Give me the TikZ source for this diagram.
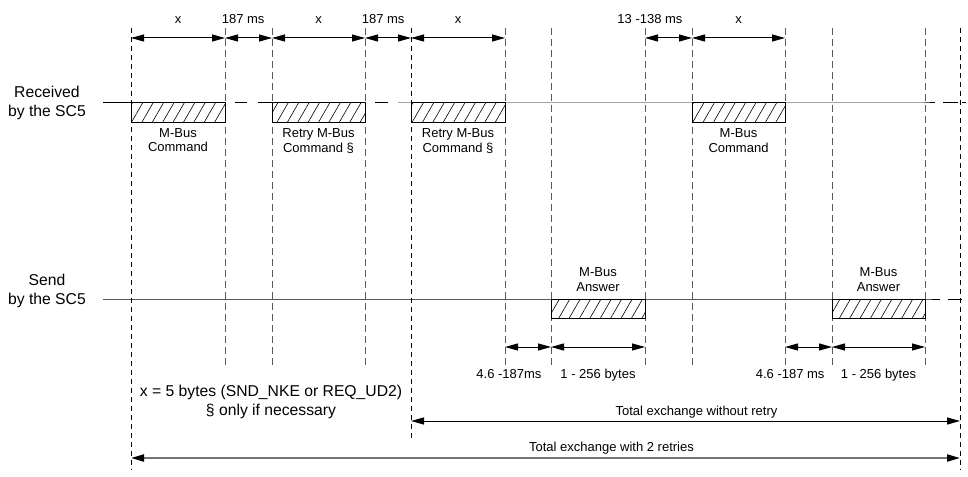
\documentclass[tikz,border=0pt]{standalone}
\usepackage{fontspec}
\setmainfont{Liberation Sans}
\usetikzlibrary{positioning,arrows.meta,patterns.meta,fit}

\begin{document}
\begin{tikzpicture}
	[
	  x=1pt, y=-1pt,
	  tick/.style={draw=black!65, dash pattern=on 7pt off 4pt, line width=1pt},
	  bound/.style={draw=black, dash pattern=on 5pt off 4pt, line width=0.9pt},
	  signal/.style={line width=1pt},
	  frame/.style={draw, line width=1pt, inner sep=0pt,
	    pattern={Lines[angle=60,distance=9pt,line width=0.6pt]}},
	  dim/.style={{Triangle[length=13pt,width=7pt,black]}-{Triangle[length=13pt,width=7pt,black]}, line width=1pt},
	  small/.style={font=\fontsize{13}{14.5}\selectfont, align=center, inner sep=0pt},
	  big/.style={font=\fontsize{15.7}{19.5}\selectfont, align=center, inner sep=0pt},
	]
	\useasboundingbox (0,0) rectangle (968,476);
	% time marks
	\foreach \n/\x in {0/131,1/225,2/272,3/365,4/411,5/505,6/551,7/645,8/692,9/785,10/832,11/925,12/960}
	  \coordinate (top\n) at (\x,28);
	\coordinate (rx) at (103,103);
	\coordinate (rb) at (103,122);
	\coordinate (sx) at (103,299);
	\coordinate (sb) at (103,318);
	\coordinate (dimtop) at (0,38);
	\coordinate (dimbot) at (0,347);
	\coordinate (tickend) at (0,365);
	% dashed time marks
	\foreach \n in {1,2,3,5,6,7,8,9,10,11}
	  \draw [tick] (top\n) -- (top\n |- tickend);
	\draw [bound] (top0) -- (top0 |- 0,470);
	\draw [bound] (top4) -- (top4 |- 0,440);
	\draw [bound] (top12) -- (top12 |- 0,470);
	% signal lines
	\draw [signal] (rx) -- (top1 |- rx)
	  ++(10,0) -- ++(12,0)
	  ++(11,0) -- (top3 |- rx)
	  ++(10,0) -- ++(13,0)
	  ++(10,0) -- (top11 |- rx) -- ++(10,0)
	  ++(8,0) -- ++(15,0)
	  ++(4,0) -- ++(4,0);
	\draw [signal] (sx) -- (top11 |- sx) -- ++(15,0)
	  ++(8,0) -- ++(14,0);
	\node (rcv) [big, left=17pt of rx] {Received\\by the SC5};
	\node (snd) [big, left=17pt of sx, yshift=8pt] {Send\\by the SC5};
	% frames
	\node (cmd1) [frame, fit={(top0 |- rx) (top1 |- rb)}] {};
	\node (cmd2) [frame, fit={(top2 |- rx) (top3 |- rb)}] {};
	\node (cmd3) [frame, fit={(top4 |- rx) (top5 |- rb)}] {};
	\node (cmd4) [frame, fit={(top8 |- rx) (top9 |- rb)}] {};
	\node (ans1) [frame, fit={(top6 |- sx) (top7 |- sb)}] {};
	\node (ans2) [frame, fit={(top10 |- sx) (top11 |- sb)}] {};
	\node (cmd1lbl) [small, below=6pt of cmd1] {M-Bus\\Command};
	\node (cmd2lbl) [small, below=6pt of cmd2] {Retry M-Bus\\Command §};
	\node (cmd3lbl) [small, below=6pt of cmd3] {Retry M-Bus\\Command §};
	\node (cmd4lbl) [small, below=6pt of cmd4] {M-Bus\\Command};
	\node (ans1lbl) [small, above=7pt of ans1] {M-Bus\\Answer};
	\node (ans2lbl) [small, above=7pt of ans2] {M-Bus\\Answer};
	% durations
	\draw [dim] (top0 |- dimtop) -- node (x1) [small, above=14pt] {x} (top1 |- dimtop);
	\draw [dim] (top1 |- dimtop) -- node (gap1) [small, pos=1, above left=14pt and 7pt] {187 ms} (top2 |- dimtop);
	\draw [dim] (top2 |- dimtop) -- node (x2) [small, above=14pt] {x} (top3 |- dimtop);
	\draw [dim] (top3 |- dimtop) -- node (gap2) [small, pos=1, above left=14pt and 6pt] {187 ms} (top4 |- dimtop);
	\draw [dim] (top4 |- dimtop) -- node (x3) [small, above=14pt] {x} (top5 |- dimtop);
	\draw [dim] (top7 |- dimtop) -- node (gap3) [small, pos=1, above left=14pt and 9pt] {13 -138 ms} (top8 |- dimtop);
	\draw [dim] (top8 |- dimtop) -- node (x4) [small, above=14pt] {x} (top9 |- dimtop);
	\draw [dim] (top5 |- dimbot) -- node (wait1) [small, pos=1, below left=22pt and 9pt] {4.6 -187ms} (top6 |- dimbot);
	\draw [dim] (top6 |- dimbot) -- node (len1) [small, below=22pt] {1 - 256 bytes} (top7 |- dimbot);
	\draw [dim] (top9 |- dimbot) -- node (wait2) [small, pos=1, below left=22pt and 7pt] {4.6 -187 ms} (top10 |- dimbot);
	\draw [dim] (top10 |- dimbot) -- node (len2) [small, below=22pt] {1 - 256 bytes} (top11 |- dimbot);
	\node (note) [big] at (271,402) {x = 5 bytes (SND\_NKE or REQ\_UD2)\\§ only if necessary};
	% totals
	\draw [dim] (top4 |- 0,421) -- node (total1) [small, above=2pt, xshift=11pt] {Total exchange without retry} (top12 |- 0,421);
	\draw [dim, draw=black!55, line width=2pt] (top0 |- 0,458) -- node (total2) [small, above=3pt, xshift=66pt, text=black] {Total exchange with 2 retries} (top12 |- 0,458);
\end{tikzpicture}
\end{document}
